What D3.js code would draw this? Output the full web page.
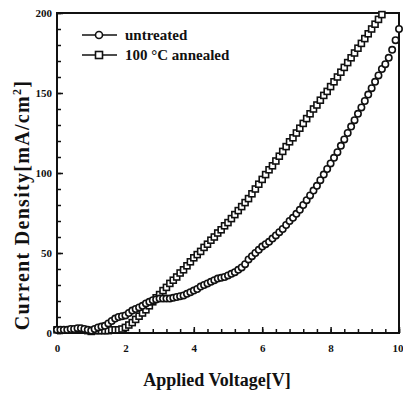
<!DOCTYPE html>
<html lang="en">
  <head>
    <meta charset="UTF-8" />
    <title>J-V</title>
    <style>
      body { margin: 0; background: #fff; }
      text { font-family: "Liberation Serif", "DejaVu Serif", serif; font-weight: bold; fill: #111; }
    </style>
  </head>
  <body>
    <script src="https://d3js.org/d3.v7.min.js"></script>
    <script>
      const width = 403;
      const height = 393;

      // voltage steps (V)
      const voltage = d3.range(0, 101).map((i) => +(i / 10).toFixed(1));

      // current density mA/cm^2, untreated device (0 - 10 V every 0.1 V)
      const untreated = [
        2, 2, 2, 2, 2.5, 2.5, 3, 3, 2.5, 2,
        1.5, 2.5, 3.5, 4, 4.5, 6, 7.5, 9, 10, 10.5,
        11, 12.5, 14, 15, 16, 17, 18.5, 19.5, 20.5, 21,
        21.5, 21.5, 21.5, 21.5, 22, 22.5, 23, 23.5, 24.5, 25.5,
        26.5, 27.5, 29, 30, 31, 32, 33, 34, 34.5, 35,
        36, 37, 38, 39.5, 41, 43, 46, 48, 50, 52,
        54, 55.5, 57, 59, 61, 63, 65, 67.5, 70, 72,
        74.5, 77, 80, 83, 86, 89, 92, 95.5, 99, 102.5,
        106, 109.5, 113, 117, 121, 125, 129, 133, 137, 141,
        145, 149, 153, 157, 161, 165, 168, 172, 177, 183,
        190
      ];

      // 100 C annealed device (0 - 9.5 V every 0.1 V)
      const annealed = [
        2, 2, 2, 2, 2, 2, 2, 2, 2, 1.5,
        1, 1.5, 1.5, 1.5, 1.5, 1.5, 2, 2, 2, 2.5,
        3.5, 5, 6.5, 8.5, 10.5, 12.5, 14.5, 17, 19.5, 22,
        24, 26.5, 28.5, 31, 33, 35, 37.5, 39.5, 42, 44.5,
        47, 49, 51, 53.5, 55.5, 58, 60, 62.5, 64.5, 67,
        69, 71.5, 74, 76.5, 79, 81.5, 84, 87, 90, 93,
        96, 99, 102, 104.5, 107.5, 110.5, 113.5, 116.5, 119.5, 122,
        125, 128, 131, 134, 137, 140, 142.5, 145.5, 148.5, 151,
        154, 157, 160, 163, 166, 169, 172, 175, 178, 181,
        184, 187, 190, 193, 196, 199
      ];

      const xMajor = [0, 2, 4, 6, 8, 10];
      const yMajor = [0, 50, 100, 150, 200];

      const svg = d3
        .select("body")
        .append("svg")
        .attr("width", width)
        .attr("height", height);

      const x = d3.scaleLinear().domain([0, 10]).range([57, 399]);
      const y = d3.scaleLinear().domain([0, 200]).range([333, 13]);

      // frame
      svg
        .append("rect")
        .attr("x", x(0))
        .attr("y", y(200))
        .attr("width", x(10) - x(0))
        .attr("height", y(0) - y(200))
        .attr("fill", "none")
        .attr("stroke", "#111")
        .attr("stroke-width", 2);

      // x axis: minor ticks every 0.4 V, major every 2 V, pointing inward
      const xMinor = d3.range(0, 10.01, 0.4).map((d) => +d.toFixed(1));
      svg
        .append("g")
        .attr("transform", `translate(0,${y(0)})`)
        .call(d3.axisBottom(x).tickValues(xMinor).tickSize(-4).tickFormat(""))
        .call((g) => g.select(".domain").remove())
        .call((g) => g.selectAll("line").attr("stroke", "#111").attr("stroke-width", 1.5));
      svg
        .append("g")
        .attr("transform", `translate(0,${y(0)})`)
        .call(d3.axisBottom(x).tickValues(xMajor).tickSize(-6).tickPadding(11).tickFormat(d3.format("d")))
        .call((g) => g.select(".domain").remove())
        .call((g) => g.selectAll("line").attr("stroke", "#111").attr("stroke-width", 1.5))
        .call((g) => g.selectAll("text").attr("font-size", 11).attr("font-family", null).attr("fill", null))
        // last label sits at the window edge; keep it inside
        .call((g) => g.selectAll("text").filter((d) => d === 10).attr("text-anchor", "end").attr("x", 4));

      // y axis
      const yMinor = d3.range(0, 201, 10);
      svg
        .append("g")
        .attr("transform", `translate(${x(0)},0)`)
        .call(d3.axisLeft(y).tickValues(yMinor).tickSize(-4).tickFormat(""))
        .call((g) => g.select(".domain").remove())
        .call((g) => g.selectAll("line").attr("stroke", "#111").attr("stroke-width", 1.5));
      svg
        .append("g")
        .attr("transform", `translate(${x(0)},0)`)
        .call(d3.axisLeft(y).tickValues(yMajor).tickSize(-6).tickPadding(5).tickFormat(d3.format("d")))
        .call((g) => g.select(".domain").remove())
        .call((g) => g.selectAll("line").attr("stroke", "#111").attr("stroke-width", 1.5))
        .call((g) => g.selectAll("text").attr("font-size", 11).attr("font-family", null).attr("fill", null));

      // annealed: squares
      svg
        .append("g")
        .selectAll("rect")
        .data(annealed)
        .join("rect")
        .attr("x", (d, i) => x(voltage[i]) - 3)
        .attr("y", (d) => y(d) - 3)
        .attr("width", 6)
        .attr("height", 6)
        .attr("fill", "#fff")
        .attr("stroke", "#111")
        .attr("stroke-width", 1.6);

      // untreated: circles
      svg
        .append("g")
        .selectAll("circle")
        .data(untreated)
        .join("circle")
        .attr("cx", (d, i) => x(voltage[i]))
        .attr("cy", (d) => y(d))
        .attr("r", 3.2)
        .attr("fill", "#fff")
        .attr("stroke", "#111")
        .attr("stroke-width", 1.6);

      // legend
      const legend = svg.append("g");
      const rows = [
        { label: "untreated", shape: "circle", cy: 35 },
        { label: "100 °C annealed", shape: "square", cy: 55 },
      ];
      rows.forEach((r) => {
        legend
          .append("line")
          .attr("x1", 82)
          .attr("x2", 117)
          .attr("y1", r.cy)
          .attr("y2", r.cy)
          .attr("stroke", "#111")
          .attr("stroke-width", 1.5);
        if (r.shape === "circle") {
          legend
            .append("circle")
            .attr("cx", 99)
            .attr("cy", r.cy)
            .attr("r", 3.5)
            .attr("fill", "#fff")
            .attr("stroke", "#111")
            .attr("stroke-width", 1.6);
        } else {
          legend
            .append("rect")
            .attr("x", 95.5)
            .attr("y", r.cy - 3.5)
            .attr("width", 7)
            .attr("height", 7)
            .attr("fill", "#fff")
            .attr("stroke", "#111")
            .attr("stroke-width", 1.6);
        }
        legend
          .append("text")
          .attr("x", 125)
          .attr("y", r.cy + 5)
          .attr("font-size", 15)
          .text(r.label);
      });

      // axis titles
      svg
        .append("text")
        .attr("x", 217)
        .attr("y", 386)
        .attr("text-anchor", "middle")
        .attr("font-size", 18)
        .text("Applied Voltage[V]");

      svg
        .append("text")
        .attr("transform", "translate(29,205) rotate(-90)")
        .attr("text-anchor", "middle")
        .attr("font-size", 20)
        .attr("letter-spacing", 1.3)
        .text("Current Density[mA/cm")
        .append("tspan")
        .attr("dy", -8)
        .attr("font-size", 12)
        .text("2")
        .select(function () { return this.parentNode; })
        .append("tspan")
        .attr("dy", 8)
        .text("]");
    </script>
  </body>
</html>
